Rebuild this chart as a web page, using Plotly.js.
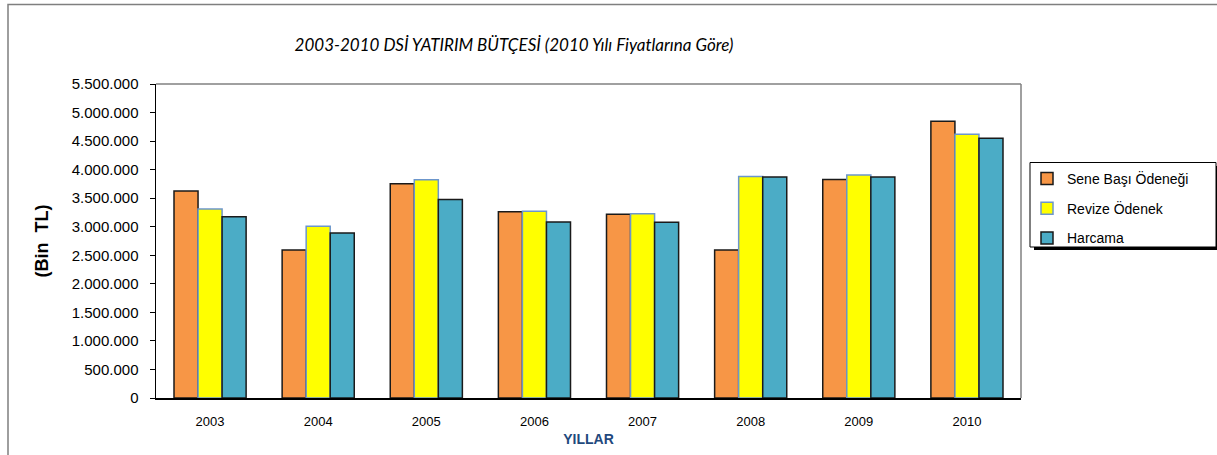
<!DOCTYPE html>
<html>
<head>
<meta charset="utf-8">
<script src="https://cdn.plot.ly/plotly-3.0.1.min.js"></script>
<style>html,body{margin:0;padding:0;background:#fff;}#chart{width:1217px;height:455px;}</style>
</head>
<body>
<div id="chart"></div>
<script>
// ---- data ----
const years = ['2003','2004','2005','2006','2007','2008','2009','2010'];
const seneBasi = [3624000, 2593000, 3752000, 3262000, 3217000, 2593000, 3829000, 4848000];
const revize   = [3309000, 3007000, 3822000, 3269000, 3228000, 3881000, 3904000, 4621000];
const harcama  = [3175000, 2890000, 3479000, 3082000, 3077000, 3869000, 3869000, 4551000];
const seriesNames = ['Sene Başı Ödeneği', 'Revize Ödenek', 'Harcama'];
const yTickVals = [0,500000,1000000,1500000,2000000,2500000,3000000,3500000,4000000,4500000,5000000,5500000];

// ---- layout geometry (pixels) ----
const W = 1217, H = 455, L = 156, R = 1021, T = 84, B = 398;
const px2x = px => (px - L) / (R - L);
const py2y = py => (B - py) / (B - T);

const font = 'Arial, "Liberation Sans", sans-serif';

const traces = [
  {type:'bar', name:seriesNames[0], x:years, y:seneBasi, legendgroup:'a',
   marker:{color:'#F79646', line:{color:'#1a1a1a', width:1.5}}},
  {type:'bar', name:seriesNames[1], x:years, y:revize, legendgroup:'b',
   marker:{color:'#FFFF00', line:{color:'#6C96CC', width:1.5}}},
  {type:'bar', name:seriesNames[2], x:years, y:harcama, legendgroup:'c',
   marker:{color:'#4BACC6', line:{color:'#1a1a1a', width:1.5}}}
];

const shapes = [
  // outer chart frame
  {type:'rect', xref:'paper', yref:'paper', x0:px2x(8), x1:px2x(1230), y0:py2y(4.5), y1:py2y(470),
   line:{color:'#7f7f7f', width:1.5}, fillcolor:'rgba(0,0,0,0)', layer:'below'},
  // plot area top and right border
  {type:'line', xref:'paper', yref:'paper', x0:0, x1:1, y0:1, y1:1, line:{color:'#808080', width:1.5}, layer:'below'},
  {type:'line', xref:'paper', yref:'paper', x0:1, x1:1, y0:0, y1:1, line:{color:'#808080', width:1.5}, layer:'below'},
  // legend shadow
  {type:'rect', xref:'paper', yref:'paper', x0:px2x(1034), x1:px2x(1220), y0:py2y(166), y1:py2y(250),
   line:{width:0}, fillcolor:'#000', layer:'above'},
  // legend box
  {type:'rect', xref:'paper', yref:'paper', x0:px2x(1030), x1:px2x(1216), y0:py2y(162.5), y1:py2y(247),
   line:{color:'#000', width:1}, fillcolor:'#fff', layer:'above'}
];

const layout = {
  width: W, height: H,
  margin: {l: L, r: W - R, t: T, b: H - B, pad: 0},
  paper_bgcolor: '#fff', plot_bgcolor: '#fff',
  separators: ',.',
  barmode: 'group', bargap: 0.333, bargroupgap: 0,
  showlegend: true,
  font: {family: font, color: '#000'},
  title: {
    text: '2003-2010 DSİ YATIRIM BÜTÇESİ (2010 Yılı Fiyatlarına Göre)',
    font: {family: 'Lato, "Open Sans", sans-serif', size: 17, style: 'italic', color: '#000'},
    xref: 'container', x: 514 / W, xanchor: 'center',
    yref: 'container', y: 1 - 45 / H, yanchor: 'middle'
  },
  xaxis: {
    type: 'category',
    showline: true, linecolor: '#000', linewidth: 1.5,
    ticks: '', showgrid: false, zeroline: false,
    tickfont: {family: font, size: 13, color: '#000'},
    ticklabelstandoff: 11,
    title: {text: '<b>YILLAR</b>', font: {family: font, size: 14, color: '#1F497D'}, standoff: 6}
  },
  yaxis: {
    range: [0, 5500000], tickvals: yTickVals, tickformat: ',d',
    showline: true, linecolor: '#000', linewidth: 1.5,
    ticks: 'outside', ticklen: 5, tickcolor: '#000', tickwidth: 1,
    showgrid: false, zeroline: false,
    tickfont: {family: font, size: 15, color: '#000'},
    ticklabelstandoff: 8,
    title: {text: '<b>(Bin  TL)</b>', font: {family: font, size: 18, color: '#000'}, standoff: 18}
  },
  legend: {
    x: px2x(1027), xanchor: 'left', y: py2y(163), yanchor: 'top',
    bgcolor: 'rgba(0,0,0,0)', borderwidth: 0,
    font: {family: font, size: 14, color: '#000'},
    traceorder: 'grouped', tracegroupgap: 8.5
  },
  shapes: shapes
};

Plotly.newPlot('chart', traces, layout, {displayModeBar: false, staticPlot: true});
</script>
</body>
</html>
